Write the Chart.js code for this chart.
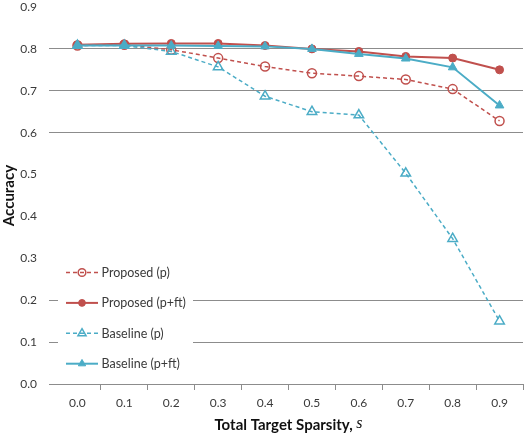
<!DOCTYPE html>
<html>
<head>
<meta charset="utf-8">
<script src="https://cdn.jsdelivr.net/npm/chart.js@4/dist/chart.umd.min.js"></script>
<style>
  html, body { margin: 0; padding: 0; background: #fff; }
  #wrap { width: 530px; height: 434px; position: relative; }
</style>
</head>
<body>
<div id="wrap"><canvas id="accChart"></canvas></div>
<script>
// values
const sparsity = ['0.0', '0.1', '0.2', '0.3', '0.4', '0.5', '0.6', '0.7', '0.8', '0.9'];
const proposedP = [0.808, 0.810, 0.798, 0.778, 0.758, 0.742, 0.735, 0.727, 0.704, 0.628];
const proposedPft = [0.810, 0.812, 0.813, 0.813, 0.808, 0.800, 0.794, 0.782, 0.778, 0.750];
const baselineP = [0.808, 0.808, 0.794, 0.757, 0.687, 0.650, 0.642, 0.503, 0.347, 0.150];
const baselinePft = [0.808, 0.808, 0.808, 0.807, 0.806, 0.800, 0.788, 0.777, 0.756, 0.665];
const seriesNames = ['Proposed (p)', 'Proposed (p+ft)', 'Baseline (p)', 'Baseline (p+ft)'];
const gridValues = [0.0, 0.1, 0.2, 0.6, 0.7, 0.8]; // only these lines are drawn in the original

const RED = '#C0504D';
const CYAN = '#4BACC6';
const GRID = '#8c8c8c';
const TEXT = '#3a3a3a';
const FONT = 'Lato, "Liberation Sans", sans-serif';

// legend box sitting inside the plot, lower left
const insideLegend = {
  id: 'insideLegend',
  afterDatasetsDraw(chart) {
    const ctx = chart.ctx;
    ctx.save();
    ctx.fillStyle = '#fff';
    ctx.fillRect(58, 258, 135, 118);
    chart.data.datasets.forEach((ds, i) => {
      const y = 272.5 + i * 30.4;
      ctx.strokeStyle = ds.borderColor;
      ctx.lineWidth = ds.borderWidth;
      ctx.setLineDash(ds.borderDash || []);
      ctx.beginPath();
      ctx.moveTo(66, y);
      ctx.lineTo(98, y);
      ctx.stroke();
      ctx.setLineDash([]);
      ctx.fillStyle = ds.pointBackgroundColor;
      ctx.lineWidth = ds.pointBorderWidth;
      Chart.helpers.drawPoint(ctx, {
        pointStyle: ds.pointStyle,
        radius: ds.pointRadius * 0.85,
        borderWidth: ds.pointBorderWidth,
        rotation: 0
      }, 82, y);
      ctx.fillStyle = TEXT;
      ctx.font = '12.5px ' + FONT;
      ctx.textBaseline = 'middle';
      ctx.textAlign = 'left';
      ctx.fillText(ds.label, 101.5, y + 0.5);
    });
    ctx.restore();
  }
};

// x title with an italic serif "s"
const xTitle = {
  id: 'xTitle',
  afterDraw(chart) {
    const ctx = chart.ctx;
    const a = chart.chartArea;
    const part1 = 'Total Target Sparsity, ';
    const part2 = 's';
    ctx.save();
    ctx.fillStyle = '#111';
    ctx.textBaseline = 'middle';
    ctx.textAlign = 'left';
    ctx.font = 'bold 15px ' + FONT;
    const w1 = ctx.measureText(part1).width;
    ctx.font = 'italic 16px "Liberation Serif", serif';
    const w2 = ctx.measureText(part2).width;
    const x0 = (a.left + a.right) / 2 - (w1 + w2) / 2;
    ctx.font = 'bold 15px ' + FONT;
    ctx.fillText(part1, x0, 425);
    ctx.font = 'italic 16px "Liberation Serif", serif';
    ctx.fillText(part2, x0 + w1, 424);
    ctx.restore();
  }
};

new Chart(document.getElementById('accChart'), {
  type: 'line',
  data: {
    labels: sparsity,
    datasets: [
      {
        label: seriesNames[0], data: proposedP, order: 4,
        borderColor: RED, borderWidth: 1.5, borderDash: [4, 3],
        pointStyle: 'circle', pointRadius: 4.5, pointBorderWidth: 1.5,
        pointBorderColor: RED, pointBackgroundColor: 'rgba(255,255,255,0)'
      },
      {
        label: seriesNames[1], data: proposedPft, order: 3,
        borderColor: RED, borderWidth: 2,
        pointStyle: 'circle', pointRadius: 4, pointBorderWidth: 1,
        pointBorderColor: RED, pointBackgroundColor: RED
      },
      {
        label: seriesNames[2], data: baselineP, order: 2,
        borderColor: CYAN, borderWidth: 1.5, borderDash: [4, 3],
        pointStyle: 'triangle', pointRadius: 5.5, pointBorderWidth: 1.5,
        pointBorderColor: CYAN, pointBackgroundColor: 'rgba(255,255,255,0)'
      },
      {
        label: seriesNames[3], data: baselinePft, order: 1,
        borderColor: CYAN, borderWidth: 2,
        pointStyle: 'triangle', pointRadius: 5, pointBorderWidth: 1,
        pointBorderColor: CYAN, pointBackgroundColor: CYAN
      }
    ]
  },
  options: {
    responsive: true,
    maintainAspectRatio: false,
    animation: false,
    layout: { padding: { top: 0, right: 0, left: 0, bottom: 0 } },
    plugins: {
      legend: { display: false },
      tooltip: { enabled: false }
    },
    scales: {
      x: {
        offset: true,
        grid: {
          offset: true,
          drawOnChartArea: false,
          drawTicks: true,
          tickLength: 6,
          color: (c) => c.index === 0 ? 'rgba(0,0,0,0)' : GRID
        },
        border: { display: true, color: GRID, width: 1 },
        ticks: { color: TEXT, padding: 6, font: { family: FONT, size: 12 }, maxRotation: 0 },
        afterFit: (s) => { s.height = 50; }
      },
      y: {
        min: 0,
        max: 0.9,
        grid: {
          drawTicks: true,
          tickLength: 5,
          color: (c) => (c.tick && gridValues.some(v => Math.abs(v - c.tick.value) < 1e-6)) ? GRID : 'rgba(0,0,0,0)'
        },
        border: { display: false },
        ticks: {
          stepSize: 0.1,
          color: TEXT,
          padding: 12,
          font: { family: FONT, size: 12 },
          callback: (v) => Number(v).toFixed(1)
        },
        title: {
          display: true,
          text: 'Accuracy',
          color: '#111',
          padding: { top: 0, bottom: 0 },
          font: { family: FONT, size: 15, weight: 'bold' }
        },
        afterFit: (s) => {
          s.width = 54;
          s.paddingTop = 5;
          s.paddingBottom = 0;
        }
      }
    }
  },
  plugins: [insideLegend, xTitle]
});
</script>
</body>
</html>
